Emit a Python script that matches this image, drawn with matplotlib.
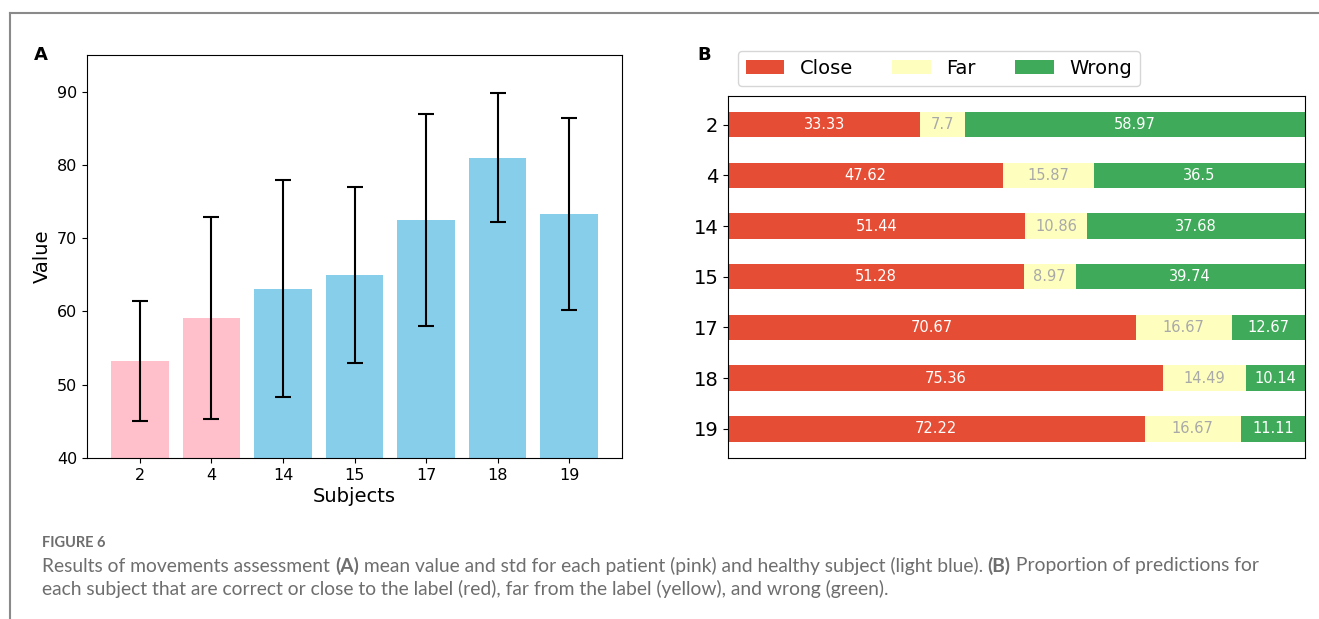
import matplotlib
matplotlib.use("Agg")
import matplotlib.pyplot as plt
from matplotlib.lines import Line2D
import numpy as np

# panel A data
subjects = ["2", "4", "14", "15", "17", "18", "19"]
means = [53.2, 59.1, 63.1, 65.0, 72.5, 81.0, 73.3]
stds = [8.2, 13.8, 14.8, 12.0, 14.45, 8.8, 13.1]
bar_colors = ["pink", "pink", "skyblue", "skyblue", "skyblue", "skyblue", "skyblue"]

# panel B data
category_names = ["Close", "Far", "Wrong"]
close_vals = [33.33, 47.62, 51.44, 51.28, 70.67, 75.36, 72.22]
far_vals = [7.7, 15.87, 10.86, 8.97, 16.67, 14.49, 16.67]
wrong_vals = [58.97, 36.5, 37.68, 39.74, 12.67, 10.14, 11.11]

caption_head = "FIGURE 6"
caption_line1 = [("Results of movements assessment ", "normal"), ("(A)", "bold"),
                 (" mean value and std for each patient (pink) and healthy subject (light blue). ", "normal"),
                 ("(B)", "bold"), (" Proportion of predictions for", "normal")]
caption_line2 = [("each subject that are correct or close to the label (red), far from the label (yellow), and wrong (green).", "normal")]

W, H = 1319, 619
fig = plt.figure(figsize=(W / 100, H / 100), dpi=100)


def fx(px):
    return px / W


def fy(py):
    return 1 - py / H


# journal frame
fig.add_artist(Line2D([fx(10), fx(1318)], [fy(13), fy(13)], color="#8a8a8a", lw=1.5))
fig.add_artist(Line2D([fx(10), fx(10)], [fy(13), 0], color="#8a8a8a", lw=1.5))

# ---- panel A ----
axA = fig.add_axes([fx(87), fy(458), fx(622) - fx(87), fy(55) - fy(458)])
x = np.arange(len(subjects))
axA.bar(x, means, color=bar_colors, width=0.8)
axA.errorbar(x, means, yerr=stds, fmt="none", ecolor="black", capsize=6, elinewidth=1.5, capthick=1.5)
axA.set_xticks(x)
axA.set_xticklabels(subjects)
axA.set_ylim(40, 95)
axA.set_yticks([40, 50, 60, 70, 80, 90])
axA.tick_params(labelsize=11.5)
axA.set_xlabel("Subjects", fontsize=14, labelpad=3)
axA.set_ylabel("Value", fontsize=14)
fig.text(fx(34), fy(55), "A", fontsize=13, fontweight="bold", va="center")

# ---- panel B ----
axB = fig.add_axes([fx(728), fy(458), fx(1305) - fx(728), fy(95.5) - fy(458)])
data = np.array([close_vals, far_vals, wrong_vals]).T
colors = plt.colormaps["RdYlGn"](np.linspace(0.15, 0.85, data.shape[1]))
cum = data.cumsum(axis=1)
axB.invert_yaxis()
axB.xaxis.set_visible(False)
axB.set_xlim(0, np.sum(data, axis=1).max())
for i, (name, color) in enumerate(zip(category_names, colors)):
    widths = data[:, i]
    starts = cum[:, i] - widths
    rects = axB.barh(subjects, widths, left=starts, height=0.5, label=name, color=color)
    r, g, b, _ = color
    text_color = "white" if r * g * b < 0.5 else "darkgrey"
    axB.bar_label(rects, labels=[f"{v:g}" for v in widths], label_type="center",
                  color=text_color, fontsize=10.5, family="DejaVu Sans")
axB.tick_params(axis="y", labelsize=14)
axB.legend(ncols=len(category_names), bbox_to_anchor=(0, 1), loc="lower left", fontsize=14)
fig.text(fx(697), fy(55), "B", fontsize=13, fontweight="bold", va="center")

# ---- caption ----
cap_font = ["Lato", "DejaVu Sans"]
cap_color = "#6e6e6e"
fig.text(fx(42), fy(543), caption_head, fontsize=10.5, fontweight="bold", color=cap_color,
         family=cap_font, va="center")

renderer = fig.canvas.get_renderer()


def draw_segments(segments, x0, y0, size):
    xp = x0
    for s, weight in segments:
        t = fig.text(fx(xp), fy(y0), s, fontsize=size, fontweight=weight, color=cap_color,
                     family=cap_font, va="center")
        xp += t.get_window_extent(renderer).width


draw_segments(caption_line1, 42, 566, 13.9)
draw_segments(caption_line2, 42, 589, 13.9)

fig.savefig("out.png", dpi=100)
